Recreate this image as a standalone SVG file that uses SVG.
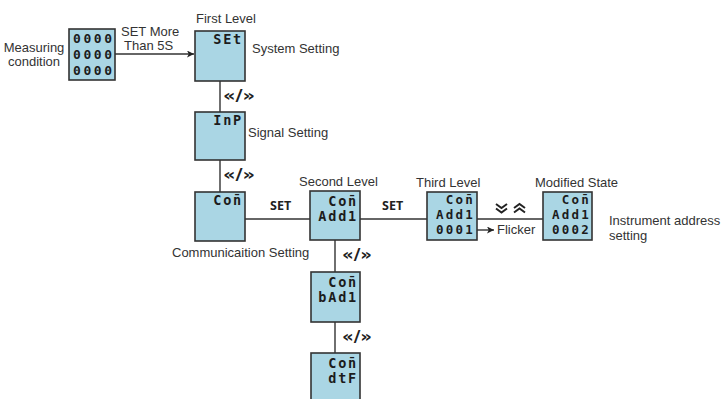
<svg xmlns="http://www.w3.org/2000/svg" width="725" height="399" viewBox="0 0 725 399">
  <defs>
    <marker id="arrow" viewBox="0 0 10 10" refX="10" refY="5" markerWidth="7" markerHeight="7" markerUnits="userSpaceOnUse" orient="auto">
      <path d="M0,0 L10,5 L0,10 L2.5,5 z" fill="#222"/>
    </marker>
    <marker id="arrowSmall" viewBox="0 0 10 10" refX="10" refY="5" markerWidth="9" markerHeight="7" markerUnits="userSpaceOnUse" orient="auto">
      <path d="M0,0 L10,5 L0,10 L2.5,5 z" fill="#222"/>
    </marker>
  </defs>
  <style>
    .panel { fill: #aad6e4; stroke: #333; stroke-width: 1.6; }
    .seg { font-family: "DejaVu Sans Mono", "Liberation Mono", monospace; font-weight: bold; font-size: 13.5px; letter-spacing: 1.8px; fill: #1c1c1c; text-anchor: end; }
    .seg3 { font-family: "DejaVu Sans Mono", "Liberation Mono", monospace; font-weight: bold; font-size: 12.5px; letter-spacing: 2.2px; fill: #1c1c1c; text-anchor: end; }
    .seg0 { font-family: "DejaVu Sans Mono", "Liberation Mono", monospace; font-weight: bold; font-size: 13px; fill: #1c1c1c; }
    .lbl { font-family: "Liberation Sans", Arial, sans-serif; font-size: 13px; fill: #333; }
    .key { font-family: "Open Sans", "Liberation Sans", sans-serif; font-weight: bold; font-size: 12.5px; fill: #222; }
    .nav { font-family: "DejaVu Sans", "Liberation Sans", sans-serif; font-weight: bold; font-size: 16px; fill: #222; }
    .wire { fill: none; stroke: #333; stroke-width: 1.4; }
    .chev { fill: none; stroke: #222; stroke-width: 2; stroke-linejoin: miter; }
  </style>

  <!-- connectors -->
  <g id="connectors">
    <line class="wire" x1="115" y1="54" x2="194" y2="54" marker-end="url(#arrow)"/>
    <line class="wire" x1="220" y1="81" x2="220" y2="112"/>
    <line class="wire" x1="220" y1="160" x2="220" y2="192"/>
    <line class="wire" x1="245" y1="219" x2="310" y2="219"/>
    <line class="wire" x1="360" y1="219" x2="427" y2="219"/>
    <line class="wire" x1="477" y1="219" x2="543" y2="219"/>
    <line class="wire" x1="335" y1="240" x2="335" y2="272"/>
    <line class="wire" x1="335" y1="322" x2="335" y2="353"/>
    <line class="wire" x1="476" y1="230" x2="494" y2="230" marker-end="url(#arrowSmall)"/>

    <!-- navigation key hints on the links -->
    <text class="nav" x="223" y="101" textLength="32" lengthAdjust="spacingAndGlyphs">«/»</text>
    <text class="nav" x="223" y="180" textLength="32" lengthAdjust="spacingAndGlyphs">«/»</text>
    <text class="nav" x="342" y="260" textLength="30" lengthAdjust="spacingAndGlyphs">«/»</text>
    <text class="nav" x="342" y="342" textLength="30" lengthAdjust="spacingAndGlyphs">«/»</text>
    <text class="key" x="270" y="210">SET</text>
    <text class="key" x="382" y="210">SET</text>

    <!-- down / up double chevrons -->
    <polyline class="chev" points="496,204 501.5,208 507,204"/>
    <polyline class="chev" points="496,208.5 501.5,212.5 507,208.5"/>
    <polyline class="chev" points="514,208 519.5,204 525,208"/>
    <polyline class="chev" points="514,212.5 519.5,208.5 525,212.5"/>
    <text class="lbl" x="497" y="234">Flicker</text>

    <text class="lbl" x="121" y="36">SET More</text>
    <text class="lbl" x="124" y="50">Than 5S</text>
  </g>

  <!-- measuring display -->
  <g id="measuring">
    <rect class="panel" x="69" y="29" width="46" height="51"/>
    <text class="seg0" x="73" y="43" textLength="39" lengthAdjust="spacing">0000</text>
    <text class="seg0" x="73" y="59" textLength="39" lengthAdjust="spacing">0000</text>
    <text class="seg0" x="73" y="75" textLength="39" lengthAdjust="spacing">0000</text>
    <text class="lbl" x="34" y="52" text-anchor="middle">Measuring</text>
    <text class="lbl" x="34" y="66" text-anchor="middle">condition</text>
  </g>

  <!-- first level: system setting -->
  <g id="set">
    <rect class="panel" x="195" y="31" width="50" height="50"/>
    <text class="seg" x="243" y="44">SEt</text>
    <text class="lbl" x="196" y="23">First Level</text>
    <text class="lbl" x="252" y="53">System Setting</text>
  </g>

  <!-- signal setting -->
  <g id="inp">
    <rect class="panel" x="195" y="112" width="50" height="48"/>
    <text class="seg" x="243" y="125">InP</text>
    <text class="lbl" x="248" y="137">Signal Setting</text>
  </g>

  <!-- communication setting -->
  <g id="con">
    <rect class="panel" x="195" y="192" width="50" height="49"/>
    <text class="seg" x="243" y="205">Con̄</text>
    <text class="lbl" x="172" y="257">Communicaition Setting</text>
  </g>

  <!-- second level: address -->
  <g id="add1">
    <rect class="panel" x="310" y="191" width="50" height="49"/>
    <text class="seg" x="358" y="206">Con̄</text>
    <text class="seg" x="358" y="221">Add1</text>
    <text class="lbl" x="299" y="186">Second Level</text>
  </g>

  <!-- baud rate -->
  <g id="bad1">
    <rect class="panel" x="311" y="272" width="49" height="50"/>
    <text class="seg" x="358" y="287">Con̄</text>
    <text class="seg" x="358" y="302">bAd1</text>
  </g>

  <!-- data format -->
  <g id="dtf">
    <rect class="panel" x="311" y="353" width="49" height="50"/>
    <text class="seg" x="358" y="368">Con̄</text>
    <text class="seg" x="358" y="383">dtF</text>
  </g>

  <!-- third level: value being edited -->
  <g id="third">
    <rect class="panel" x="427" y="192" width="50" height="48"/>
    <text class="seg3" x="475" y="204">Con̄</text>
    <text class="seg3" x="475" y="219">Add1</text>
    <text class="seg3" x="475" y="234">0001</text>
    <text class="lbl" x="416" y="187">Third Level</text>
  </g>

  <!-- modified state -->
  <g id="modified">
    <rect class="panel" x="543" y="192" width="49" height="48"/>
    <text class="seg3" x="591" y="204">Con̄</text>
    <text class="seg3" x="591" y="219">Add1</text>
    <text class="seg3" x="591" y="234">0002</text>
    <text class="lbl" x="535" y="187">Modified State</text>
    <text class="lbl" x="609" y="225">Instrument address</text>
    <text class="lbl" x="609" y="240">setting</text>
  </g>
</svg>
